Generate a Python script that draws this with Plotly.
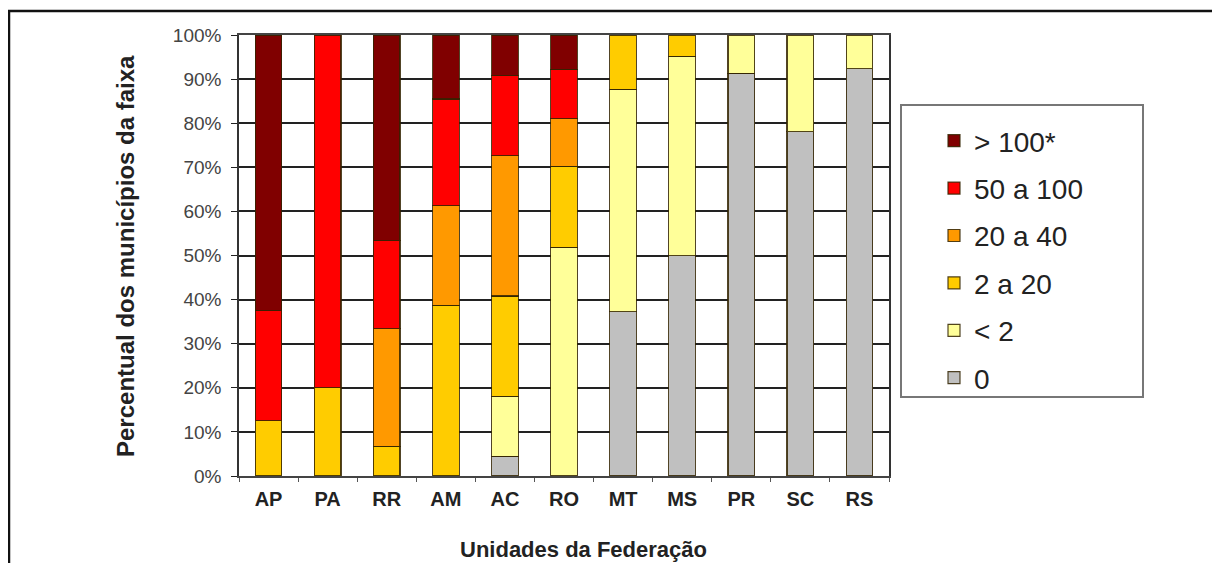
import plotly.graph_objects as go

# ---- data (percent of municipalities per range) ----
categories = ["AP", "PA", "RR", "AM", "AC", "RO", "MT", "MS", "PR", "SC", "RS"]
series_names = ["0", "< 2", "2 a 20", "20 a 40", "50 a 100", "> 100*"]
v_zero = [0, 0, 0, 0, 4.5, 0, 37.3, 50.0, 91.3, 78.1, 92.4]
v_lt2 = [0, 0, 0, 0, 13.6, 51.9, 50.4, 45.2, 8.7, 21.9, 7.6]
v_2_20 = [12.5, 20.0, 6.7, 38.7, 22.7, 18.3, 12.3, 4.8, 0, 0, 0]
v_20_40 = [0, 0, 26.7, 22.6, 31.8, 10.8, 0, 0, 0, 0, 0]
v_50_100 = [25.0, 80.0, 20.0, 24.2, 18.2, 11.2, 0, 0, 0, 0, 0]
v_gt100 = [62.5, 0, 46.6, 14.5, 9.1, 7.8, 0, 0, 0, 0, 0]
y_ticks = [0, 10, 20, 30, 40, 50, 60, 70, 80, 90, 100]

colors = ["#C0C0C0", "#FFFF99", "#FFCC00", "#FF9900", "#FF0000", "#800000"]
all_values = [v_zero, v_lt2, v_2_20, v_20_40, v_50_100, v_gt100]

FONT = "Liberation Sans, Arial, sans-serif"

fig = go.Figure()
n = len(series_names)
for i, (name, vals, col) in enumerate(zip(series_names, all_values, colors)):
    fig.add_trace(go.Bar(
        x=categories,
        y=[v if v else None for v in vals],
        name=name,
        legendgroup=name,
        legendrank=n - i,
        marker=dict(color=col, line=dict(color="rgba(50,35,0,0.85)", width=1.2)),
    ))

# page offset (browser body margin) and plot area, in reference pixels
OFF = 8
W, H = 1220 - OFF, 563 - OFF
L, R, T, B = 239 - OFF, 889 - OFF, 35 - OFF, 476 - OFF
def px(x):
    return (x - OFF - L) / (R - L)
def py(y):
    return (B - (y - OFF)) / (B - T)

fig.update_layout(
    width=W, height=H,
    margin=dict(l=L, r=W - R, t=T, b=H - B),
    barmode="stack",
    bargap=0.55,
    paper_bgcolor="white",
    plot_bgcolor="white",
    font=dict(family=FONT, color="#222"),
    showlegend=True,
    legend=dict(
        x=px(934), y=py(116), xanchor="left", yanchor="top",
        traceorder="grouped",
        tracegroupgap=8,
        borderwidth=0,
        font=dict(family=FONT, size=28, color="#222"),
        itemwidth=30,
        bgcolor="rgba(0,0,0,0)",
    ),
    xaxis=dict(
        type="category",
        range=[-0.5, 10.5],
        tickfont=dict(family=FONT, size=20, color="#222", weight="bold"),
        ticks="outside", tickson="boundaries", ticklen=4, tickcolor="#555",
        showline=True, linecolor="#444", linewidth=1.5, mirror=True,
        showgrid=False,
        ticklabelstandoff=4,
    ),
    yaxis=dict(
        range=[0, 100],
        tickvals=y_ticks,
        ticktext=[f"{t}%" for t in y_ticks],
        tickfont=dict(family=FONT, size=19, color="#444"),
        ticks="outside", ticklen=6, tickcolor="#222",
        showline=True, linecolor="#333", linewidth=1.5, mirror=True,
        showgrid=True, gridcolor="#222", gridwidth=1.5,
        ticklabelstandoff=6,
        zeroline=False,
    ),
    annotations=[
        dict(text="<b>Unidades da Federação</b>", x=px(583), y=py(549),
             xref="paper", yref="paper", showarrow=False,
             font=dict(family=FONT, size=22, color="#222"),
             xanchor="center", yanchor="middle"),
        dict(text="<b>Percentual dos municípios da faixa</b>", x=px(126), y=py(256),
             xref="paper", yref="paper", showarrow=False, textangle=-90,
             font=dict(family=FONT, size=24, color="#222"),
             xanchor="center", yanchor="middle"),
    ],
    shapes=[
        # outer frame
        dict(type="rect", xref="paper", yref="paper",
             x0=px(9), x1=px(1240), y0=py(600), y1=py(11),
             line=dict(color="#111", width=2.5), fillcolor="rgba(0,0,0,0)",
             layer="above"),
        # legend frame
        dict(type="rect", xref="paper", yref="paper",
             x0=px(901), x1=px(1143), y0=py(397), y1=py(105),
             line=dict(color="#777", width=2), fillcolor="rgba(0,0,0,0)",
             layer="above"),
    ],
)

fig.write_html("out.html")
